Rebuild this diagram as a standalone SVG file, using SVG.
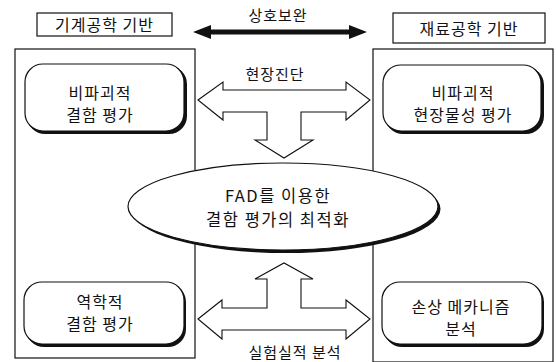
<svg xmlns="http://www.w3.org/2000/svg" width="556" height="362" viewBox="0 0 556 362">
<defs>
<style>
.t{font-family:"Noto Sans CJK KR","Noto Sans",sans-serif;fill:#111;text-anchor:middle}
.s16{font-size:16px;letter-spacing:1px}
.s15{font-size:15px;letter-spacing:1px}
.s17{font-size:16.5px;letter-spacing:1.5px}
.frame{fill:none;stroke:#111;stroke-width:1.2}
.lbl{fill:#fff;stroke:#111;stroke-width:1.2}
.node{fill:#fff;stroke:#111;stroke-width:1.2}
.shadow{fill:#111}
.hollow{fill:#fff;stroke:#111;stroke-width:1.1;stroke-linejoin:miter}
</style>
</defs>
<rect width="556" height="362" fill="#fff"/>
<g id="left-frame">
<rect class="frame" x="15" y="49" width="180" height="309"/>
<rect class="lbl" x="37" y="13" width="135" height="23"/>
<text class="t s16" x="104.5" y="31">기계공학 기반</text>
</g>
<g id="right-frame">
<rect class="frame" x="373" y="49" width="180" height="313"/>
<rect class="lbl" x="393" y="13" width="152" height="30"/>
<text class="t s16" x="469" y="35">재료공학 기반</text>
</g>
<g id="connectors">
<polygon fill="#111" points="193,32 211,25 211,29.5 349,29.5 349,25 367,32 349,39 349,34.5 211,34.5 211,39"/>
<text class="t s15" x="278" y="21">상호보완</text>
<polygon class="hollow" points="198,100 223,82 223,90 346,90 346,82 370,100 346,120 346,112 301,112 301,140 313,140 284,158 255,140 267,140 267,112 223,112 223,120"/>
<text class="t s15" x="275" y="80">현장진단</text>
<polygon class="hollow" points="198,319 222,300 222,308 267,308 267,279 255,279 284,263 313,279 301,279 301,308 346,308 346,300 370,319 346,339 346,330 222,330 222,339"/>
<text class="t s15" x="295" y="358">실험실적 분석</text>
</g>
<g id="node-left-top">
<rect class="shadow" x="27" y="66" width="160" height="68" rx="18"/>
<rect class="node" x="25" y="64" width="159" height="67" rx="18"/>
<text class="t s16" x="100" y="99">비파괴적</text>
<text class="t s16" x="100" y="121">결함 평가</text>
</g>
<g id="node-right-top">
<rect class="shadow" x="385" y="67" width="159" height="67" rx="18"/>
<rect class="node" x="383" y="65" width="158" height="66" rx="18"/>
<text class="t s16" x="463" y="99">비파괴적</text>
<text class="t s16" x="463" y="121">현장물성 평가</text>
</g>
<g id="node-center">
<ellipse class="shadow" cx="285.5" cy="209" rx="155" ry="44"/>
<ellipse class="node" cx="283" cy="206.5" rx="155" ry="43.5"/>
<text class="t s17" x="278" y="202">FAD를 이용한</text>
<text class="t s17" x="278" y="226">결함 평가의 최적화</text>
</g>
<g id="node-left-bottom">
<rect class="shadow" x="26" y="284" width="160" height="63" rx="18"/>
<rect class="node" x="24" y="282" width="160" height="62" rx="18"/>
<text class="t s16" x="100" y="308">역학적</text>
<text class="t s16" x="100" y="330">결함 평가</text>
</g>
<g id="node-right-bottom">
<rect class="shadow" x="384" y="284" width="160" height="63" rx="18"/>
<rect class="node" x="382" y="282" width="160" height="62" rx="18"/>
<text class="t s16" x="461" y="313">손상 메카니즘</text>
<text class="t s16" x="461" y="335">분석</text>
</g>
</svg>
